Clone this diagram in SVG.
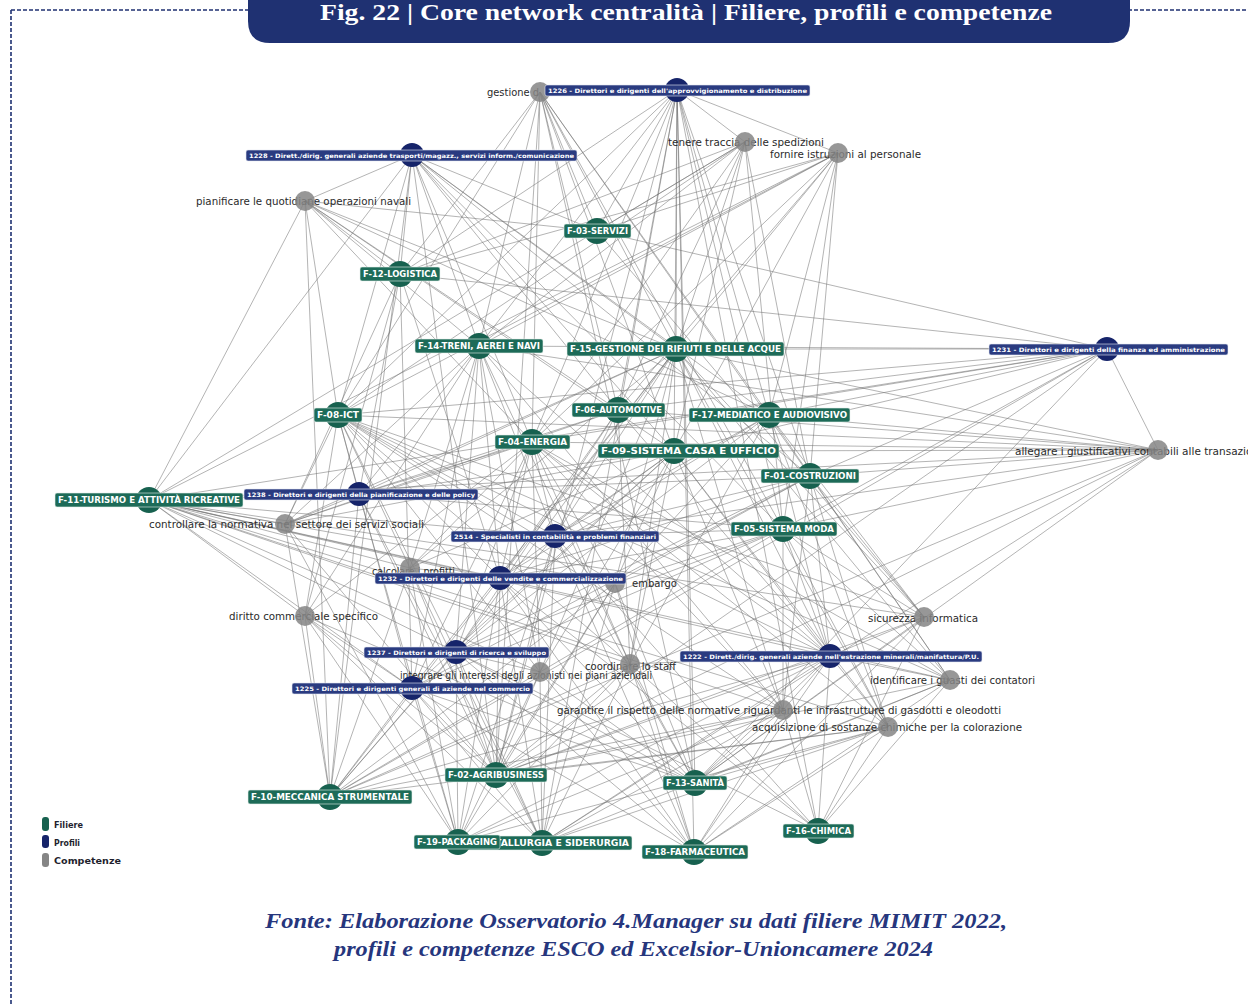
<svg xmlns="http://www.w3.org/2000/svg" width="1248" height="1005" viewBox="0 0 1248 1005">
<style>
.e{fill:none;stroke:#6f6f6f;stroke-width:0.85;stroke-opacity:0.62}
.fc{fill:#17614f}
.fr{fill:#1d6b58;stroke:#e8f0ec;stroke-width:0.6}
.ft{font-family:"DejaVu Sans","Liberation Sans",sans-serif;font-weight:bold;font-size:8px;fill:#fff}
.pc{fill:#16246a}
.pr{fill:#2a3b80;stroke:#e6e9f2;stroke-width:0.6}
.pt{font-family:"DejaVu Sans","Liberation Sans",sans-serif;font-weight:bold;font-size:6px;fill:#fff}
.cc{fill:#858585;fill-opacity:0.85}
.ct{font-family:"DejaVu Sans","Liberation Sans",sans-serif;font-size:10px;fill:#2a2a2a}
.lt{font-family:"DejaVu Sans","Liberation Sans",sans-serif;font-weight:bold;font-size:9px;fill:#1f1f2e}
</style>
<rect width="1248" height="1005" fill="#fff"/>
<g id="frame">
<path d="M11 10H250M1128 10H1248M11 10V1005" fill="none" stroke="#1f3172" stroke-width="1.6" stroke-dasharray="4 2"/>
<path d="M248 -5H1130V21Q1130 43 1108 43H270Q248 43 248 21Z" fill="#1f3172"/>
<text x="320" y="20" font-family="'Liberation Serif',serif" font-weight="bold" font-size="23" fill="#fff" textLength="732" lengthAdjust="spacingAndGlyphs">Fig. 22 | Core network centralità | Filiere, profili e competenze</text>
</g>
<g id="connectors">
<path class="e" d="M677 90L597 231M677 90L400 274M677 90L479 346M677 90L676 349M677 90L338 415M677 90L618 410M677 90L769 415M677 90L532 442M677 90L674 451M677 90L810 476M677 90L783 529M677 90L695 783M677 90L496 775M677 90L542 843M677 90L694 852M677 90L818 831M677 90L745 142M677 90L838 153"/>
<path class="e" d="M412 155L597 231M412 155L400 274M412 155L479 346M412 155L676 349M412 155L338 415M412 155L618 410M412 155L532 442M412 155L674 451M412 155L810 476M412 155L783 529M412 155L769 415M412 155L305 201M412 155L149 500M412 155L496 775M412 155L330 797"/>
<path class="e" d="M1107 349L676 349M1107 349L618 410M1107 349L769 415M1107 349L674 451M1107 349L810 476M1107 349L783 529M1107 349L532 442M1107 349L479 346M1107 349L338 415M1107 349L149 500M1107 349L597 231M1107 349L400 274M1107 349L1158 450M1107 349L496 775M1107 349L695 783M1107 349L330 797"/>
<path class="e" d="M359 494L149 500M359 494L338 415M359 494L400 274M359 494L479 346M359 494L532 442M359 494L618 410M359 494L674 451M359 494L676 349M359 494L810 476M359 494L783 529M359 494L496 775M359 494L330 797M359 494L458 842M359 494L542 843M359 494L285 524"/>
<path class="e" d="M555 536L149 500M555 536L338 415M555 536L479 346M555 536L532 442M555 536L618 410M555 536L674 451M555 536L676 349M555 536L769 415M555 536L810 476M555 536L783 529M555 536L496 775M555 536L695 783M555 536L330 797M555 536L458 842M555 536L542 843M555 536L694 852M555 536L818 831M555 536L1158 450"/>
<path class="e" d="M500 578L149 500M500 578L338 415M500 578L400 274M500 578L479 346M500 578L532 442M500 578L618 410M500 578L674 451M500 578L676 349M500 578L769 415M500 578L810 476M500 578L783 529M500 578L496 775M500 578L695 783M500 578L330 797M500 578L458 842M500 578L542 843M500 578L694 852M500 578L818 831M500 578L410 568M500 578L615 583"/>
<path class="e" d="M456 652L149 500M456 652L338 415M456 652L479 346M456 652L532 442M456 652L618 410M456 652L674 451M456 652L676 349M456 652L769 415M456 652L810 476M456 652L783 529M456 652L496 775M456 652L695 783M456 652L330 797M456 652L458 842M456 652L542 843M456 652L694 852M456 652L818 831M456 652L540 672"/>
<path class="e" d="M412 688L149 500M412 688L338 415M412 688L400 274M412 688L479 346M412 688L532 442M412 688L674 451M412 688L676 349M412 688L810 476M412 688L783 529M412 688L496 775M412 688L695 783M412 688L330 797M412 688L458 842M412 688L542 843M412 688L694 852M412 688L305 616"/>
<path class="e" d="M830 656L149 500M830 656L338 415M830 656L479 346M830 656L532 442M830 656L618 410M830 656L674 451M830 656L676 349M830 656L769 415M830 656L810 476M830 656L783 529M830 656L496 775M830 656L695 783M830 656L330 797M830 656L458 842M830 656L542 843M830 656L694 852M830 656L818 831M830 656L924 617M830 656L950 680M830 656L783 710M830 656L888 727M830 656L630 664"/>
<path class="e" d="M540 92L597 231M540 92L400 274M540 92L479 346M540 92L676 349M540 92L618 410M540 92L532 442M540 92L674 451M540 92L769 415M540 92L810 476M540 92L783 529M540 92L338 415M540 92L496 775M540 92L695 783"/>
<path class="e" d="M745 142L597 231M745 142L400 274M745 142L479 346M745 142L676 349M745 142L618 410M745 142L674 451M745 142L532 442M745 142L338 415M745 142L810 476M745 142L783 529M745 142L149 500"/>
<path class="e" d="M838 153L597 231M838 153L400 274M838 153L479 346M838 153L676 349M838 153L618 410M838 153L769 415M838 153L674 451M838 153L532 442M838 153L338 415M838 153L810 476M838 153L783 529M838 153L149 500"/>
<path class="e" d="M305 201L400 274M305 201L479 346M305 201L597 231M305 201L676 349M305 201L338 415M305 201L618 410M305 201L532 442M305 201L674 451M305 201L769 415M305 201L149 500M305 201L330 797"/>
<path class="e" d="M1158 450L676 349M1158 450L769 415M1158 450L618 410M1158 450L674 451M1158 450L810 476M1158 450L783 529M1158 450L532 442M1158 450L338 415M1158 450L149 500M1158 450L479 346M1158 450L695 783M1158 450L496 775M1158 450L330 797M1158 450L542 843"/>
<path class="e" d="M285 524L149 500M285 524L338 415M285 524L400 274M285 524L479 346M285 524L532 442M285 524L618 410M285 524L676 349M285 524L674 451M285 524L330 797M285 524L496 775M285 524L458 842"/>
<path class="e" d="M410 568L149 500M410 568L338 415M410 568L479 346M410 568L532 442M410 568L674 451M410 568L676 349M410 568L330 797M410 568L496 775M410 568L458 842M410 568L542 843"/>
<path class="e" d="M615 583L149 500M615 583L338 415M615 583L532 442M615 583L674 451M615 583L676 349M615 583L769 415M615 583L810 476M615 583L783 529M615 583L496 775M615 583L695 783M615 583L330 797M615 583L458 842M615 583L542 843M615 583L694 852"/>
<path class="e" d="M305 616L149 500M305 616L338 415M305 616L400 274M305 616L479 346M305 616L532 442M305 616L330 797M305 616L496 775M305 616L458 842M305 616L542 843M305 616L695 783"/>
<path class="e" d="M924 617L149 500M924 617L338 415M924 617L676 349M924 617L769 415M924 617L810 476M924 617L783 529M924 617L597 231M924 617L695 783M924 617L694 852M924 617L818 831M924 617L496 775"/>
<path class="e" d="M540 672L149 500M540 672L338 415M540 672L479 346M540 672L532 442M540 672L674 451M540 672L676 349M540 672L783 529M540 672L496 775M540 672L695 783M540 672L330 797M540 672L458 842M540 672L542 843M540 672L694 852"/>
<path class="e" d="M630 664L149 500M630 664L338 415M630 664L479 346M630 664L532 442M630 664L618 410M630 664L674 451M630 664L676 349M630 664L769 415M630 664L496 775M630 664L695 783M630 664L330 797M630 664L458 842M630 664L542 843M630 664L694 852M630 664L818 831"/>
<path class="e" d="M950 680L149 500M950 680L338 415M950 680L676 349M950 680L769 415M950 680L810 476M950 680L783 529M950 680L532 442M950 680L695 783M950 680L818 831M950 680L694 852M950 680L496 775M950 680L542 843"/>
<path class="e" d="M783 710L149 500M783 710L338 415M783 710L479 346M783 710L532 442M783 710L674 451M783 710L676 349M783 710L810 476M783 710L783 529M783 710L496 775M783 710L695 783M783 710L330 797M783 710L458 842M783 710L542 843M783 710L694 852M783 710L818 831"/>
<path class="e" d="M888 727L149 500M888 727L532 442M888 727L674 451M888 727L676 349M888 727L769 415M888 727L810 476M888 727L783 529M888 727L496 775M888 727L695 783M888 727L330 797M888 727L458 842M888 727L542 843M888 727L694 852M888 727L818 831"/>
</g>
<g id="competenze">
<g id="c-gestione"><text class="ct" x="487" y="96" textLength="52" lengthAdjust="spacingAndGlyphs">gestione d</text><circle class="cc" cx="540" cy="92" r="10"/></g>
<g id="c-tenere"><text class="ct" x="668" y="146" textLength="156" lengthAdjust="spacingAndGlyphs">tenere traccia delle spedizioni</text><circle class="cc" cx="745" cy="142" r="10"/></g>
<g id="c-fornire"><text class="ct" x="770" y="158" textLength="151" lengthAdjust="spacingAndGlyphs">fornire istruzioni al personale</text><circle class="cc" cx="838" cy="153" r="10"/></g>
<g id="c-pianificare"><text class="ct" x="196" y="205" textLength="215" lengthAdjust="spacingAndGlyphs">pianificare le quotidiane operazioni navali</text><circle class="cc" cx="305" cy="201" r="10"/></g>
<g id="c-allegare"><text class="ct" x="1015" y="455" textLength="247" lengthAdjust="spacingAndGlyphs">allegare i giustificativi contabili alle transazioni</text><circle class="cc" cx="1158" cy="450" r="10"/></g>
<g id="c-controllare"><text class="ct" x="149" y="528" textLength="275" lengthAdjust="spacingAndGlyphs">controllare la normativa nel settore dei servizi sociali</text><circle class="cc" cx="285" cy="524" r="10"/></g>
<g id="c-calcolare"><text class="ct" x="372" y="575" textLength="83" lengthAdjust="spacingAndGlyphs">calcolare i profitti</text><circle class="cc" cx="410" cy="568" r="10"/></g>
<g id="c-embargo"><text class="ct" x="632" y="587" textLength="45" lengthAdjust="spacingAndGlyphs">embargo</text><circle class="cc" cx="615" cy="583" r="10"/></g>
<g id="c-diritto"><text class="ct" x="229" y="620" textLength="149" lengthAdjust="spacingAndGlyphs">diritto commerciale specifico</text><circle class="cc" cx="305" cy="616" r="10"/></g>
<g id="c-sicurezza"><text class="ct" x="868" y="622" textLength="110" lengthAdjust="spacingAndGlyphs">sicurezza informatica</text><circle class="cc" cx="924" cy="617" r="10"/></g>
<g id="c-integrare"><text class="ct" x="400" y="679" textLength="252" lengthAdjust="spacingAndGlyphs">integrare gli interessi degli azionisti nei piani aziendali</text><circle class="cc" cx="540" cy="672" r="10"/></g>
<g id="c-coordinare"><text class="ct" x="585" y="670" textLength="91" lengthAdjust="spacingAndGlyphs">coordinare lo staff</text><circle class="cc" cx="630" cy="664" r="10"/></g>
<g id="c-identificare"><text class="ct" x="870" y="684" textLength="165" lengthAdjust="spacingAndGlyphs">identificare i guasti dei contatori</text><circle class="cc" cx="950" cy="680" r="10"/></g>
<g id="c-garantire"><text class="ct" x="557" y="714" textLength="444" lengthAdjust="spacingAndGlyphs">garantire il rispetto delle normative riguardanti le infrastrutture di gasdotti e oleodotti</text><circle class="cc" cx="783" cy="710" r="10"/></g>
<g id="c-acquisizione"><text class="ct" x="752" y="731" textLength="270" lengthAdjust="spacingAndGlyphs">acquisizione di sostanze chimiche per la colorazione</text><circle class="cc" cx="888" cy="727" r="10"/></g>
</g>
<g id="filiere">
<g id="f03"><circle class="fc" cx="597" cy="231" r="13"/><rect class="fr" x="564" y="224" width="67" height="14" rx="2"/><text class="ft" x="597.5" y="234" text-anchor="middle" textLength="61" lengthAdjust="spacingAndGlyphs">F-03-SERVIZI</text></g>
<g id="f12"><circle class="fc" cx="400" cy="274" r="13"/><rect class="fr" x="360" y="267" width="80" height="14" rx="2"/><text class="ft" x="400" y="277" text-anchor="middle" textLength="74" lengthAdjust="spacingAndGlyphs">F-12-LOGISTICA</text></g>
<g id="f14"><circle class="fc" cx="479" cy="346" r="13"/><rect class="fr" x="415" y="339" width="128" height="14" rx="2"/><text class="ft" x="479" y="349" text-anchor="middle" textLength="122" lengthAdjust="spacingAndGlyphs">F-14-TRENI, AEREI E NAVI</text></g>
<g id="f15"><circle class="fc" cx="676" cy="349" r="13"/><rect class="fr" x="567" y="342" width="217" height="14" rx="2"/><text class="ft" x="675.5" y="352" text-anchor="middle" textLength="211" lengthAdjust="spacingAndGlyphs">F-15-GESTIONE DEI RIFIUTI E DELLE ACQUE</text></g>
<g id="f08"><circle class="fc" cx="338" cy="415" r="13"/><rect class="fr" x="314" y="408" width="48" height="14" rx="2"/><text class="ft" x="338" y="418" text-anchor="middle" textLength="42" lengthAdjust="spacingAndGlyphs">F-08-ICT</text></g>
<g id="f06"><circle class="fc" cx="618" cy="410" r="13"/><rect class="fr" x="572" y="403" width="93" height="14" rx="2"/><text class="ft" x="618.5" y="413" text-anchor="middle" textLength="87" lengthAdjust="spacingAndGlyphs">F-06-AUTOMOTIVE</text></g>
<g id="f17"><circle class="fc" cx="769" cy="415" r="13"/><rect class="fr" x="689" y="408" width="161" height="14" rx="2"/><text class="ft" x="769.5" y="418" text-anchor="middle" textLength="155" lengthAdjust="spacingAndGlyphs">F-17-MEDIATICO E AUDIOVISIVO</text></g>
<g id="f04"><circle class="fc" cx="532" cy="442" r="13"/><rect class="fr" x="495" y="435" width="75" height="14" rx="2"/><text class="ft" x="532.5" y="445" text-anchor="middle" textLength="69" lengthAdjust="spacingAndGlyphs">F-04-ENERGIA</text></g>
<g id="f09"><circle class="fc" cx="674" cy="451" r="13"/><rect class="fr" x="598" y="444" width="181" height="14" rx="2"/><text class="ft" x="688.5" y="454" text-anchor="middle" textLength="175" lengthAdjust="spacingAndGlyphs">F-09-SISTEMA CASA E UFFICIO</text></g>
<g id="f01"><circle class="fc" cx="810" cy="476" r="13"/><rect class="fr" x="761" y="469" width="98" height="14" rx="2"/><text class="ft" x="810" y="479" text-anchor="middle" textLength="92" lengthAdjust="spacingAndGlyphs">F-01-COSTRUZIONI</text></g>
<g id="f11"><circle class="fc" cx="149" cy="500" r="13"/><rect class="fr" x="55" y="493" width="188" height="14" rx="2"/><text class="ft" x="149" y="503" text-anchor="middle" textLength="182" lengthAdjust="spacingAndGlyphs">F-11-TURISMO E ATTIVITÀ RICREATIVE</text></g>
<g id="f05"><circle class="fc" cx="783" cy="529" r="13"/><rect class="fr" x="731" y="522" width="106" height="14" rx="2"/><text class="ft" x="784" y="532" text-anchor="middle" textLength="100" lengthAdjust="spacingAndGlyphs">F-05-SISTEMA MODA</text></g>
<g id="f02"><circle class="fc" cx="496" cy="775" r="13"/><rect class="fr" x="445" y="768" width="102" height="14" rx="2"/><text class="ft" x="496" y="778" text-anchor="middle" textLength="96" lengthAdjust="spacingAndGlyphs">F-02-AGRIBUSINESS</text></g>
<g id="f13"><circle class="fc" cx="695" cy="783" r="13"/><rect class="fr" x="663" y="776" width="64" height="14" rx="2"/><text class="ft" x="695" y="786" text-anchor="middle" textLength="58" lengthAdjust="spacingAndGlyphs">F-13-SANITÀ</text></g>
<g id="f10"><circle class="fc" cx="330" cy="797" r="13"/><rect class="fr" x="248" y="790" width="164" height="14" rx="2"/><text class="ft" x="330" y="800" text-anchor="middle" textLength="158" lengthAdjust="spacingAndGlyphs">F-10-MECCANICA STRUMENTALE</text></g>
<g id="f16"><circle class="fc" cx="818" cy="831" r="13"/><rect class="fr" x="783" y="824" width="71" height="14" rx="2"/><text class="ft" x="818.5" y="834" text-anchor="middle" textLength="65" lengthAdjust="spacingAndGlyphs">F-16-CHIMICA</text></g>
<g id="f07"><circle class="fc" cx="542" cy="843" r="13"/><rect class="fr" x="450" y="836" width="182" height="14" rx="2"/><text class="ft" x="541" y="846" text-anchor="middle" textLength="176" lengthAdjust="spacingAndGlyphs">F-07-METALLURGIA E SIDERURGIA</text></g>
<g id="f19"><circle class="fc" cx="458" cy="842" r="13"/><rect class="fr" x="414" y="835" width="86" height="14" rx="2"/><text class="ft" x="457" y="845" text-anchor="middle" textLength="80" lengthAdjust="spacingAndGlyphs">F-19-PACKAGING</text></g>
<g id="f18"><circle class="fc" cx="694" cy="852" r="13"/><rect class="fr" x="642" y="845" width="106" height="14" rx="2"/><text class="ft" x="695" y="855" text-anchor="middle" textLength="100" lengthAdjust="spacingAndGlyphs">F-18-FARMACEUTICA</text></g>
</g>
<g id="profili">
<g id="p1226"><circle class="pc" cx="677" cy="90" r="12"/><rect class="pr" x="545" y="85" width="265" height="11" rx="2"/><text class="pt" x="677.5" y="93" text-anchor="middle" textLength="259" lengthAdjust="spacingAndGlyphs">1226 - Direttori e dirigenti dell'approvvigionamento e distribuzione</text></g>
<g id="p1228"><circle class="pc" cx="412" cy="155" r="12"/><rect class="pr" x="246" y="150" width="331" height="11" rx="2"/><text class="pt" x="411.5" y="158" text-anchor="middle" textLength="325" lengthAdjust="spacingAndGlyphs">1228 - Dirett./dirig. generali aziende trasporti/magazz., servizi inform./comunicazione</text></g>
<g id="p1231"><circle class="pc" cx="1107" cy="349" r="12"/><rect class="pr" x="989" y="344" width="239" height="11" rx="2"/><text class="pt" x="1108.5" y="352" text-anchor="middle" textLength="233" lengthAdjust="spacingAndGlyphs">1231 - Direttori e dirigenti della finanza ed amministrazione</text></g>
<g id="p1238"><circle class="pc" cx="359" cy="494" r="12"/><rect class="pr" x="244" y="489" width="234" height="11" rx="2"/><text class="pt" x="361" y="497" text-anchor="middle" textLength="228" lengthAdjust="spacingAndGlyphs">1238 - Direttori e dirigenti della pianificazione e delle policy</text></g>
<g id="p2514"><circle class="pc" cx="555" cy="536" r="12"/><rect class="pr" x="451" y="531" width="208" height="11" rx="2"/><text class="pt" x="555" y="539" text-anchor="middle" textLength="202" lengthAdjust="spacingAndGlyphs">2514 - Specialisti in contabilità e problemi finanziari</text></g>
<g id="p1232"><circle class="pc" cx="500" cy="578" r="12"/><rect class="pr" x="375" y="573" width="251" height="11" rx="2"/><text class="pt" x="500.5" y="581" text-anchor="middle" textLength="245" lengthAdjust="spacingAndGlyphs">1232 - Direttori e dirigenti delle vendite e commercializzazione</text></g>
<g id="p1237"><circle class="pc" cx="456" cy="652" r="12"/><rect class="pr" x="364" y="647" width="185" height="11" rx="2"/><text class="pt" x="456.5" y="655" text-anchor="middle" textLength="179" lengthAdjust="spacingAndGlyphs">1237 - Direttori e dirigenti di ricerca e sviluppo</text></g>
<g id="p1225"><circle class="pc" cx="412" cy="688" r="12"/><rect class="pr" x="292" y="683" width="241" height="11" rx="2"/><text class="pt" x="412.5" y="691" text-anchor="middle" textLength="235" lengthAdjust="spacingAndGlyphs">1225 - Direttori e dirigenti generali di aziende nel commercio</text></g>
<g id="p1222"><circle class="pc" cx="830" cy="656" r="12"/><rect class="pr" x="680" y="651" width="302" height="11" rx="2"/><text class="pt" x="831" y="659" text-anchor="middle" textLength="296" lengthAdjust="spacingAndGlyphs">1222 - Dirett./dirig. generali aziende nell'estrazione minerali/manifattura/P.U.</text></g>
</g>
<g id="legend">
<rect x="42" y="817" width="7" height="14" rx="3" fill="#17614f"/>
<rect x="42" y="835" width="7" height="13" rx="3" fill="#16246a"/>
<rect x="42" y="853" width="7" height="14" rx="3" fill="#858585"/>
<text class="lt" x="54" y="828" textLength="29" lengthAdjust="spacingAndGlyphs">Filiere</text>
<text class="lt" x="54" y="846" textLength="26" lengthAdjust="spacingAndGlyphs">Profili</text>
<text class="lt" x="54" y="864" textLength="67" lengthAdjust="spacingAndGlyphs">Competenze</text>
</g>
<g id="footer" font-family="'Liberation Serif',serif" font-style="italic" font-weight="bold" font-size="22" fill="#26367d">
<text x="265" y="928" textLength="742" lengthAdjust="spacingAndGlyphs">Fonte: Elaborazione Osservatorio 4.Manager su dati filiere MIMIT 2022,</text>
<text x="334" y="956" textLength="599" lengthAdjust="spacingAndGlyphs">profili e competenze ESCO ed Excelsior-Unioncamere 2024</text>
</g>
</svg>
